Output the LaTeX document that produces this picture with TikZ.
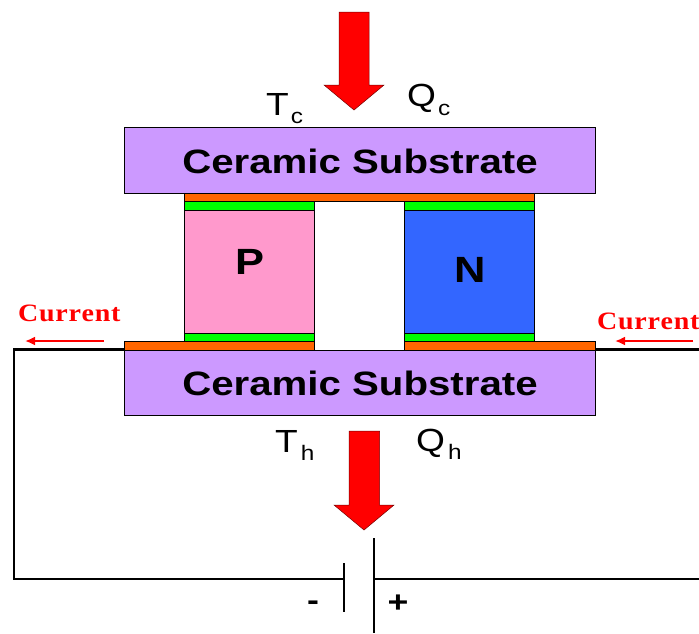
\documentclass[tikz,border=0pt]{standalone}
\usepackage{fontspec}
\setmainfont{Liberation Sans}
\newfontfamily\wideb{Liberation Sans}[FakeStretch=1.19]
\newfontfamily\widem{Liberation Sans}[FakeStretch=1.16]
\newfontfamily\serifb{Liberation Serif}[FakeStretch=1.12]
\usetikzlibrary{arrows.meta,calc}
\definecolor{ceramic}{HTML}{CC99FF}
\definecolor{copperc}{HTML}{FF6600}
\definecolor{solder}{HTML}{00FF00}
\definecolor{ptype}{HTML}{FF99CC}
\definecolor{ntype}{HTML}{3366FF}
% main letter, kern before the subscript, subscript, drop
\newcommand{\lblsub}[4]{{\widem\fontsize{32}{32}\selectfont #1}\kern#2\raisebox{-#4}{\widem\fontsize{21}{21}\selectfont #3}}
\newcommand{\curtext}{C\kern0.7pt u\kern0.7pt r\kern0.7pt r\kern0.7pt e\kern0.7pt n\kern0.7pt t}
\tikzset{
  x=1pt,y=-1pt,
  block/.style={draw=black,line width=0.9pt,inner sep=0pt,outer sep=0pt,anchor=north west},
  wire/.style={draw=black,line width=2.2pt},
  plate/.style={draw=black,line width=2.4pt},
  heat/.style={fill=red,draw=red!45!black,line width=0.5pt},
  flow/.style={draw=red,line width=2.2pt,-{Latex[length=10pt,width=9pt]}},
  sub/.style={font=\wideb\fontsize{33.8}{33.8}\selectfont\bfseries,text=black,inner sep=0pt},
  leg/.style={font=\wideb\fontsize{36.5}{36.5}\selectfont\bfseries,text=black,inner sep=0pt},
  cur/.style={font=\serifb\fontsize{25}{25}\selectfont\bfseries,text=red,inner sep=0pt,anchor=base west},
  lbl/.style={inner sep=0pt,anchor=base west},
  sign/.style={font=\wideb\fontsize{30}{30}\selectfont\bfseries,inner sep=0pt}
}
\begin{document}
\begin{tikzpicture}
\useasboundingbox (0,0) rectangle (699,633);
% circuit
\coordinate (wl) at (14,349.5);
\coordinate (wb) at (14,579);
\coordinate (wr) at (699,349.5);
\coordinate (wbr) at (699,579);
\coordinate (minus) at (344,579);
\coordinate (plus) at (374,579);
\coordinate (mt) at (344,563);
\coordinate (mb) at (344,612);
\coordinate (pt) at (374,538);
\coordinate (pb) at (374,633);
\draw[wire,line join=miter] (124.5,349.5) -- (wl) -- (wb) -- (minus);
\draw[wire] (595,349.5) -- (wr);
\draw[wire] (plus) -- (wbr);
\draw[plate] (mt) -- (mb);
\draw[plate] (pt) -- (pb);
% blocks
\node[block,fill=ceramic,minimum width=471pt,minimum height=65.5pt] (topsub) at (124,127.5) {};
\node[block,fill=copperc,minimum width=350pt,minimum height=8.5pt] (topcu) at (184.5,193) {};
\node[block,fill=solder,minimum width=130pt,minimum height=8.5pt] (gtl) at (184.5,201.5) {};
\node[block,fill=solder,minimum width=130pt,minimum height=8.5pt] (gtr) at (404.5,201.5) {};
\node[block,fill=ptype,minimum width=130pt,minimum height=123pt] (pleg) at (184.5,210) {};
\node[block,fill=ntype,minimum width=130pt,minimum height=123pt] (nleg) at (404.5,210) {};
\node[block,fill=solder,minimum width=130pt,minimum height=8.5pt] (gbl) at (184.5,333) {};
\node[block,fill=solder,minimum width=130pt,minimum height=8.5pt] (gbr) at (404.5,333) {};
\node[block,fill=copperc,minimum width=190.5pt,minimum height=8.5pt] (cul) at (124,341.5) {};
\node[block,fill=copperc,minimum width=190.5pt,minimum height=8.5pt] (cur) at (404.5,341.5) {};
\node[block,fill=ceramic,minimum width=471pt,minimum height=65.5pt] (botsub) at (124,350) {};
% block text
\node[sub] (t1) at (360,161) {Ceramic Substrate};
\node[sub] (t2) at (360,383) {Ceramic Substrate};
\node[leg] (tp) at (250,262) {P};
\node[leg] (tn) at (470,270) {N};
% heat arrows
\draw[heat] (339,12) -- (369,12) -- (369,85) -- (384,85) -- (354,110) -- (324,85) -- (339,85) -- cycle;
\draw[heat] (349,431) -- (379.5,431) -- (379.5,505) -- (394,505) -- (364,530) -- (334,505) -- (349,505) -- cycle;
% labels
\node[lbl] (tc) at (266,115) {\lblsub{T}{2pt}{c}{8pt}};
\node[lbl] (qc) at (407,106) {\lblsub{Q}{2pt}{c}{9pt}};
\node[lbl] (th) at (275,452) {\lblsub{T}{3pt}{h}{8pt}};
\node[lbl] (qh) at (416,451) {\lblsub{Q}{3pt}{h}{8pt}};
% current
\node[cur] (cl) at (18,321.5) {\curtext};
\node[cur] (cr) at (597,329.5) {\curtext};
\coordinate (a1) at (104,341);
\coordinate (a2) at (25,341);
\coordinate (a3) at (693,341);
\coordinate (a4) at (615,341);
\draw[flow] (a1) -- (a2);
\draw[flow] (a3) -- (a4);
% signs
\node[sign] (sm) at (313,606) {-};
\node[sign] (sp) at (398,604) {+};
\end{tikzpicture}
\end{document}
